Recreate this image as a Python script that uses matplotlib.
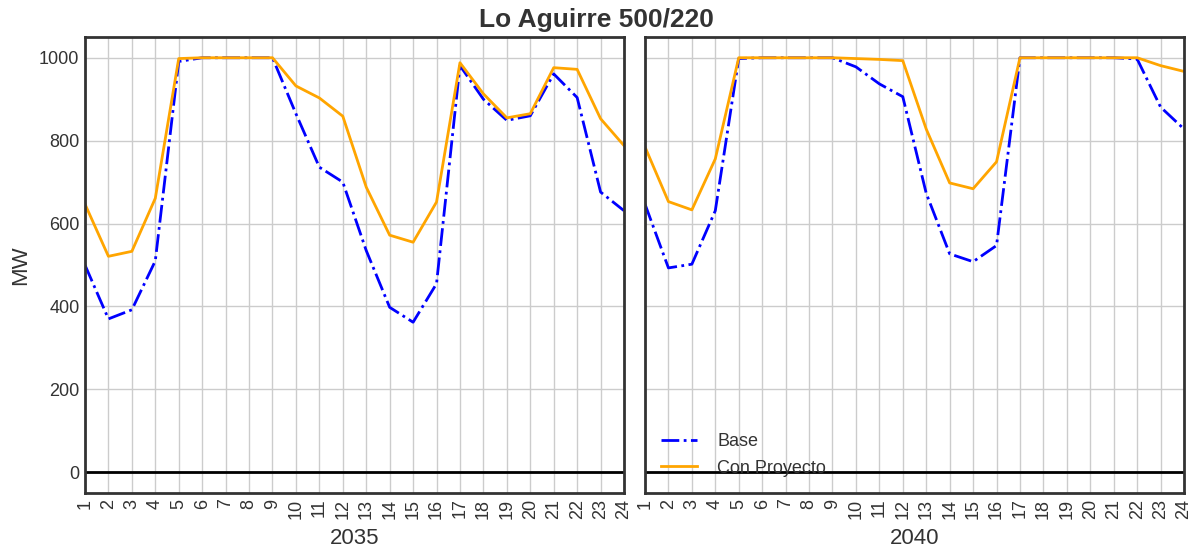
import matplotlib
matplotlib.use("Agg")
import matplotlib.pyplot as plt

hours = list(range(1, 25))

base_2035 = [500, 370, 392, 510, 991, 1000, 1000, 1000, 1000, 865, 736, 700,
             535, 398, 362, 455, 981, 900, 849, 860, 961, 904, 676, 631]
proy_2035 = [647, 521, 533, 661, 998, 1000, 1000, 1000, 1000, 932, 903, 859,
             688, 572, 555, 652, 988, 913, 855, 865, 976, 972, 853, 788]

base_2040 = [647, 493, 502, 631, 998, 1000, 1000, 1000, 1000, 978, 937, 906,
             673, 527, 508, 547, 1000, 1000, 1000, 1000, 1000, 997, 881, 828]
proy_2040 = [785, 653, 633, 756, 1000, 1000, 1000, 1000, 1000, 998, 996, 993,
             828, 698, 684, 749, 1000, 1000, 1000, 1000, 1000, 1000, 981, 967]

years = ["2035", "2040"]
title = "Lo Aguirre 500/220"

plt.rcParams['font.family'] = ['Liberation Sans', 'DejaVu Sans']

fig = plt.figure(figsize=(11.92, 5.5), dpi=100)
ax1 = fig.add_axes([0.0713, 0.1036, 0.4522, 0.8291])
ax2 = fig.add_axes([0.5411, 0.1036, 0.4522, 0.8291], sharey=ax1)

for ax, base, proy, year in [(ax1, base_2035, proy_2035, years[0]),
                             (ax2, base_2040, proy_2040, years[1])]:
    ax.grid(True, color='#cccccc', linewidth=1)
    ax.set_axisbelow(True)
    ax.plot(hours, base, color='blue', linestyle='-.', linewidth=2, label='Base')
    ax.plot(hours, proy, color='orange', linestyle='-', linewidth=2, label='Con Proyecto')
    ax.axhline(0, color='black', linewidth=2)
    ax.set_xlim(1, 24)
    ax.set_ylim(-50, 1050)
    ax.set_xticks(hours)
    ax.set_xticklabels([str(h) for h in hours], rotation=90)
    ax.set_xlabel(year, fontsize=16, color='#333333', labelpad=7)
    ax.set_yticks([0, 200, 400, 600, 800, 1000])
    ax.tick_params(axis='both', length=0, pad=4, labelcolor='#333333', labelsize=13)
    for s in ax.spines.values():
        s.set_color('#333333')
        s.set_linewidth(2)

ax2.tick_params(axis='y', labelleft=False)
ax1.set_ylabel('MW', fontsize=16, color='#333333', labelpad=6)
ax2.legend(loc='lower left', frameon=False, fontsize=13, labelcolor='#333333',
           bbox_to_anchor=(0.0, 0.0), handlelength=2, handletextpad=1.1,
           labelspacing=0.55)

fig.suptitle(title, fontsize=19, fontweight='bold', color='#333333', y=0.985)

fig.savefig('out.png', dpi=100)
